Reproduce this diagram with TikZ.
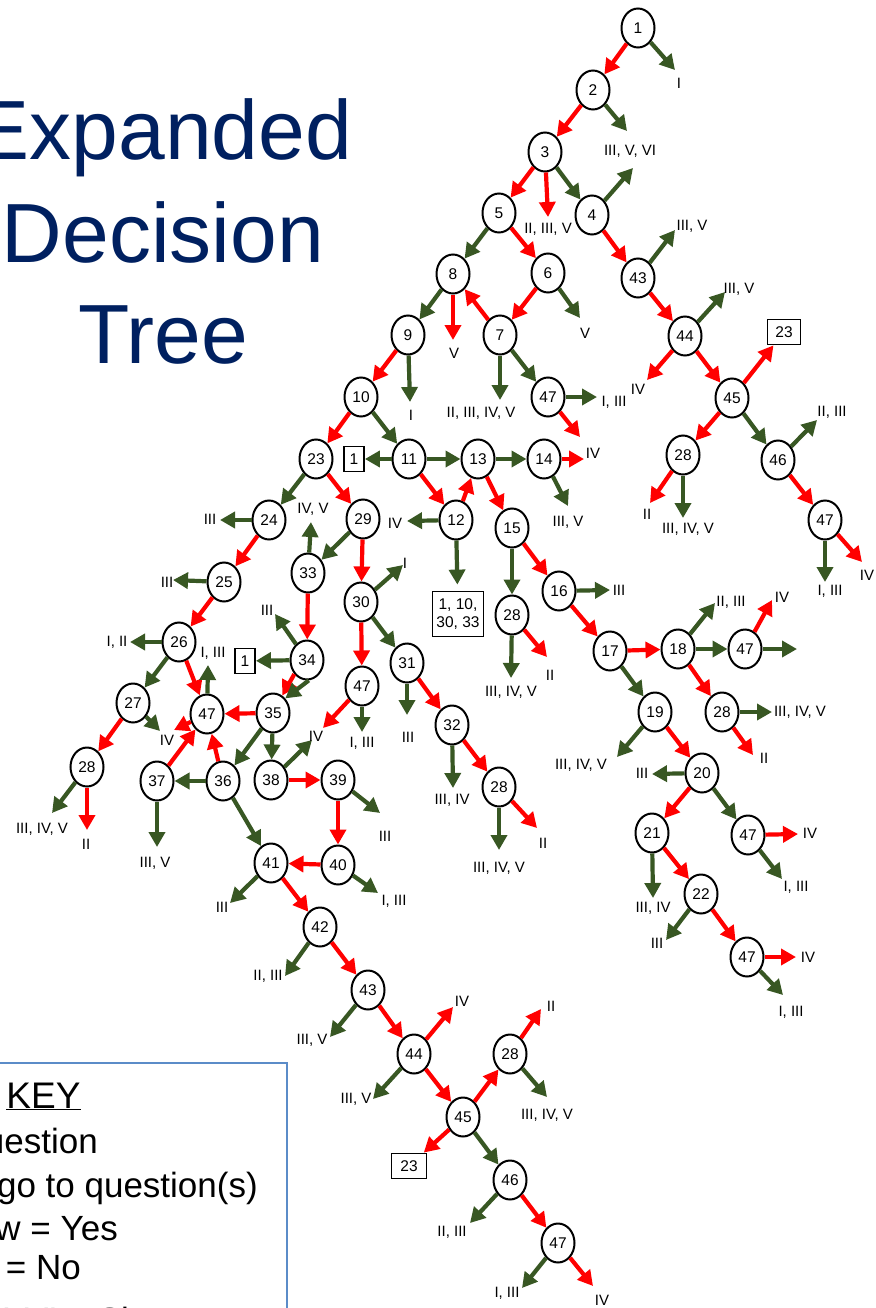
\documentclass[tikz,border=0pt]{standalone}
\usepackage{fontspec}
\setmainfont{Liberation Sans}
\usetikzlibrary{arrows.meta}
\usetikzlibrary{shapes.geometric}

\definecolor{vertf}{RGB}{56,87,35}
\definecolor{bleuf}{RGB}{0,32,96}
\definecolor{cadre}{RGB}{91,140,200}

\tikzset{
  q/.style={ellipse,draw,line width=2pt,minimum width=33pt,minimum height=39pt,inner sep=0pt,font=\fontsize{15.5}{18}\selectfont},
  boite/.style={draw,line width=1.8pt,inner sep=0pt,minimum height=25pt,font=\fontsize{15.5}{18}\selectfont},
  lab/.style={inner sep=0pt,font=\fontsize{15}{17}\selectfont},
  oui/.style={draw=vertf,line width=4.2pt,-{Triangle[length=15pt,width=16pt]}},
  non/.style={draw=red,line width=4.2pt,-{Triangle[length=15pt,width=16pt]}},
}

\begin{document}
\begin{tikzpicture}[x=1pt,y=-1pt]
\useasboundingbox (0,0) rectangle (875,1308);
% titre
\node[anchor=base,inner sep=0pt,text=bleuf,font=\fontsize{84}{100}\selectfont] (t1) at (163,160) {Expanded};
\node[anchor=base,inner sep=0pt,text=bleuf,font=\fontsize{84}{100}\selectfont] (t2) at (163,262) {Decision};
\node[anchor=base,inner sep=0pt,text=bleuf,font=\fontsize{84}{100}\selectfont] (t3) at (163,363) {Tree};
% cle
\draw[cadre,line width=1.2pt] (-200,1063) rectangle (287,1400);
\node[anchor=base,inner sep=0pt,font=\fontsize{37}{40}\selectfont] (cle) at (43.5,1108) {\underline{KEY}};
\node[anchor=base east,inner sep=0pt,font=\fontsize{35}{40}\selectfont] (k1) at (98,1153) {Circle = Question};
\node[anchor=base east,inner sep=0pt,font=\fontsize{35}{40}\selectfont] (k2) at (258,1197) {Square = go to question(s)};
\node[anchor=base east,inner sep=0pt,font=\fontsize{35}{40}\selectfont] (k3) at (118,1240) {Green Arrow = Yes};
\node[anchor=base east,inner sep=0pt,font=\fontsize{35}{40}\selectfont] (k4) at (81,1279) {Red Arrow = No};
\node[anchor=base west,inner sep=0pt,font=\fontsize{35}{40}\selectfont] (k5) at (-181,1332) {I, II, III, IV, V, VI = Sites};
% questions
\foreach \n/\x/\y/\t in {q1/638/28/1, q2/593/90/2, q3/545/152/3, q5/499/213/5, q4/592/215/4,
    q8/453/274/8, q6/548/273/6, q43/638/278/43, q9/408/335/9, q7/500/335/7, q44/685/336/44,
    q47h/548/397/47, q45/732/398/45, q10/361/397/10, q23/316/459/23, q11/409/459/11,
    q13/478/459/13, q14/544/459/14, q28f/683/455/28, q46/778/460/46, q24/269/520/24,
    q29/363/519/29, q12/456/520/12, q15/512/528/15, q47g/825/520/47, q33/308/573/33,
    q25/224/582/25, q30/361/602/30, q16/559/591/16, q28c/512/615/28, q26/179/642/26,
    q34/307/660/34, q31/407/663/31, q17/610/651/17, q18/678/649/18, q47d/745/649/47,
    q27/133/703/27, q47a/207/714/47, q35/273/713/35, q47b/362/686/47, q32/452/725/32,
    q19/655/712/19, q28e/722/712/28, q28a/87/767/28, q37/157/781/37, q36/223/781/36,
    q38/271/780/38, q39/338/780/39, q28b/499/787/28, q20/702/773/20, q21/652/833/21,
    q47e/748/835/47, q41/271/863/41, q40/338/865/40, q22/701/894/22, q47f/747/957/47,
    q42/320/927/42, q43b/368/990/43, q44b/414/1054/44, q28d/510/1054/28, q45b/463/1117/45,
    q46b/510/1180/46, q47c/558/1243/47}
  \node[q] (\n) at (\x,\y) {\t};
% renvois
\node[boite,minimum width=20pt] (b1a) at (354,459) {1};
\node[boite,minimum width=20pt] (b1b) at (245,661) {1};
\node[boite,minimum width=33pt] (b23a) at (784,332) {23};
\node[boite,minimum width=35pt] (b23b) at (409,1166) {23};
\node[boite,minimum width=51pt,minimum height=45pt,align=center] (b1033) at (458,614) {1, 10,\\30, 33};
% fleches non
\foreach \a/\b in {q1/q2, q2/q3, q3/q5, q5/q6, q4/q43, q6/q7, q7/q8, q9/q10, q10/q23, q11/q12,
    q12/q13, q13/q15, q15/q16, q16/q17, q17/q18, q18/q28e, q19/q20, q20/q21, q21/q22, q22/q47f,
    q23/q29, q24/q25, q25/q26, q26/q47a, q27/q28a, q29/q30, q30/q47b, q31/q32, q32/q28b,
    q33/q34, q35/q47a, q36/q47a, q37/q47a, q38/q39, q39/q40, q40/q41, q41/q42, q42/q43b,
    q43b/q44b, q44b/q45b, q45b/q28d, q45b/b23b, q46b/q47c, q43/q44, q44/q45, q45/b23a,
    q45/q28f, q46/q47g}
  \draw[non] (\a) -- (\b);
% fleches oui
\foreach \a/\b in {q3/q4, q5/q8, q8/q9, q7/q47h, q10/q11, q11/q13, q13/q14, q11/b1a, q15/q28c,
    q17/q19, q18/q47d, q20/q47e, q23/q24, q29/q33, q30/q31, q26/q27, q35/q36, q35/q38,
    q36/q37, q36/q41, q34/b1b, q45/q46, q45b/q46b}
  \draw[oui] (\a) -- (\b);
\draw[oui,shorten >=6pt] (q12) -- (b1033);
\draw[non] (q34.228) -- (q35.62);
\draw[oui] (q34.275) -- (q35.50);
% sorties
\foreach \s/\c/\x/\y/\lx/\ly/\t in {q1/oui/675/70/679/83/I, q2/oui/627/131/630/151/{III, V, VI},
    q3/non/548/217/548/229/{II, III, V}, q43/oui/675/230/692/226/{III, V},
    q8/non/453/340/454/353/V, q6/oui/580/318/585/333/V, q9/oui/410/402/411/415/I,
    q7/oui/500/400/481/413/{II, III, IV, V}, q47h/oui/597/397/614/402/{I, III},
    q44/oui/725/292/739/289/{III, V}, q44/non/647/380/638/389/IV,
    q46/oui/817/420/832/412/{II, III}, q14/non/584/459/593/453/IV, q14/oui/568/506/568/522/{III, V},
    q12/oui/407/521/395/523/IV, q28f/non/650/503/647/514/II, q28f/oui/683/518/688/529/{III, IV, V},
    q47g/oui/825/582/830/591/{I, III}, q47g/non/862/562/867/575/IV, q24/oui/220/520/210/519/III,
    q33/oui/311/522/313/509/{IV, V}, q30/oui/403/565/405/563/I, q25/oui/173/580/167/582/III,
    q26/oui/130/642/117/642/{I, II}, q34/oui/275/614/267/610/III, q47a/oui/208/665/213/653/{I, III},
    q27/oui/160/731/167/740/IV, q38/oui/312/740/316/736/IV, q47b/oui/362/732/362/743/{I, III},
    q31/oui/407/715/408/737/III, q16/oui/610/590/619/590/III, q28c/non/547/657/550/675/II,
    q28c/oui/511/678/511/692/{III, IV, V}, q18/oui/715/603/731/602/{II, III},
    q47d/non/772/600/782/597/IV, q28e/oui/772/712/800/712/{III, IV, V}, q28e/non/753/755/764/758/II,
    q28a/oui/52/813/42/829/{III, IV, V}, q28a/non/87/830/86/844/II, q37/oui/157/847/155/863/{III, V},
    q39/oui/380/813/385/836/III, q40/oui/378/893/394/901/{I, III}, q41/oui/230/903/222/907/III,
    q32/oui/453/788/452/800/{III, IV}, q28b/oui/499/850/499/868/{III, IV, V},
    q28b/non/537/828/543/843/II, q19/oui/617/757/581/765/{III, IV, V}, q20/oui/652/774/642/773/III,
    q47e/non/798/834/810/833/IV, q47e/oui/782/879/796/887/{I, III}, q21/oui/653/898/653/908/{III, IV},
    q22/oui/666/940/657/943/III, q47f/non/796/957/808/957/IV, q47f/oui/783/995/791/1012/{I, III},
    q42/oui/285/976/268/976/{II, III}, q43b/oui/330/1037/312/1040/{III, V},
    q44b/non/453/1007/462/1001/IV, q44b/oui/373/1099/356/1099/{III, V},
    q28d/non/541/1009/551/1006/II, q28d/oui/547/1097/547/1115/{III, IV, V},
    q46b/oui/470/1223/452/1232/{II, III}, q47c/oui/522/1288/507/1293/{I, III},
    q47c/non/593/1286/602/1300/IV}
  {
  \coordinate (e\s\c) at (\x,\y);
  \draw[\c] (\s) -- (e\s\c);
  \node[lab] (l\s\c) at (\lx,\ly) {\t};
  }
% sorties sans texte
\coordinate (eq4oui) at (633,168);
\coordinate (eq47hnon) at (580,437);
\coordinate (eq47anon) at (174,730);
\coordinate (eq47bnon) at (323,728);
\coordinate (eq47doui) at (797,649);
\draw[oui] (q4) -- (eq4oui);
\draw[non] (q47h) -- (eq47hnon);
\draw[non] (q47a) -- (eq47anon);
\draw[non] (q47b) -- (eq47bnon);
\draw[oui] (q47d) -- (eq47doui);
\end{tikzpicture}
\end{document}
